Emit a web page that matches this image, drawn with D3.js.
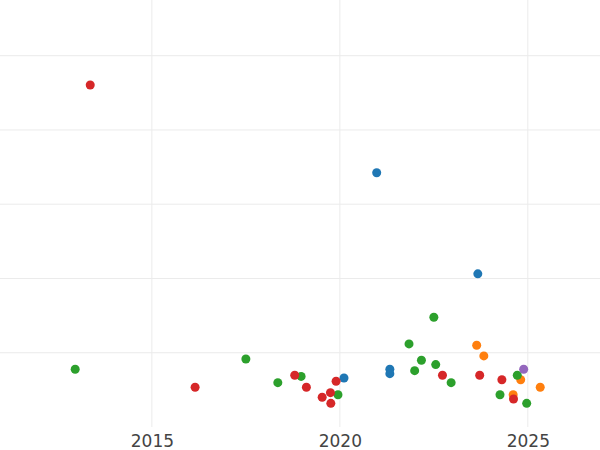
<!DOCTYPE html>
<html>
<head>
<meta charset="utf-8">
<script src="https://cdn.jsdelivr.net/npm/d3@7"></script>
<style>
  body { margin: 0; background: #fff; }
  .x.axis text { font-family: "DejaVu Sans", sans-serif; font-size: 17px; fill: #444; }
  .grid line { stroke: #ebebeb; stroke-width: 1; }
</style>
</head>
<body>
<svg id="chart"></svg>
<script>
// data points as [year, value], one array per series
var blueSeries = [[2020.98, 34.23], [2020.11, 6.60], [2021.33, 7.78], [2021.33, 7.18], [2023.67, 20.62]];
var orangeSeries = [[2023.64, 11.01], [2023.83, 9.57], [2024.61, 4.35], [2024.81, 6.37], [2025.33, 5.35]];
var greenSeries = [[2012.96, 7.78], [2017.50, 9.16], [2018.35, 5.97], [2018.97, 6.81], [2019.95, 4.35],
    [2021.84, 11.19], [2021.99, 7.59], [2022.17, 8.99], [2022.50, 14.78], [2022.55, 8.40],
    [2022.96, 5.97], [2024.26, 4.35], [2024.72, 6.97], [2024.97, 3.19]];
var redSeries = [[2013.36, 46.05], [2016.15, 5.35], [2018.80, 6.97], [2019.11, 5.35], [2019.53, 4.00],
    [2019.75, 4.62], [2019.76, 3.19], [2019.90, 6.16], [2022.73, 6.97], [2023.72, 6.97],
    [2024.31, 6.37], [2024.62, 3.77]];
var purpleSeries = [[2024.89, 7.78]];

var xTicks = [2015, 2020, 2025];
var yTicks = [10, 20, 30, 40, 50];

var series = [
    {pts: blueSeries, color: "#1f77b4"},
    {pts: orangeSeries, color: "#ff7f0e"},
    {pts: greenSeries, color: "#2ca02c"},
    {pts: redSeries, color: "#d62728"},
    {pts: purpleSeries, color: "#9467bd"}
];

var width = 600, height = 427;

var svg = d3.select("#chart")
    .attr("width", 600)
    .attr("height", 450);

var x = d3.scaleLinear()
    .domain([2010.96, 2026.92])
    .range([0, width]);

var y = d3.scaleLinear()
    .domain([0, 57.5])
    .range([height, 0]);

// grid
var grid = svg.append("g").attr("class", "grid");
grid.selectAll(".hg")
    .data(yTicks)
  .enter().append("line")
    .attr("x1", 0).attr("x2", width)
    .attr("y1", function(d) { return y(d); })
    .attr("y2", function(d) { return y(d); });
grid.selectAll(".vg")
    .data(xTicks)
  .enter().append("line")
    .attr("y1", 0).attr("y2", height)
    .attr("x1", function(d) { return x(d); })
    .attr("x2", function(d) { return x(d); });

var xAxis = d3.axisBottom(x)
    .tickValues(xTicks)
    .tickSize(0)
    .tickPadding(8)
    .tickFormat(d3.format("d"));

var gx = svg.append("g")
    .attr("class", "x axis")
    .attr("transform", "translate(0," + height + ")")
    .call(xAxis);
gx.select(".domain").remove();

series.forEach(function(s) {
    svg.append("g").selectAll("circle")
        .data(s.pts)
      .enter().append("circle")
        .attr("r", 4.5)
        .attr("cx", function(d) { return x(d[0]); })
        .attr("cy", function(d) { return y(d[1]); })
        .attr("fill", s.color);
});
</script>
</body>
</html>
